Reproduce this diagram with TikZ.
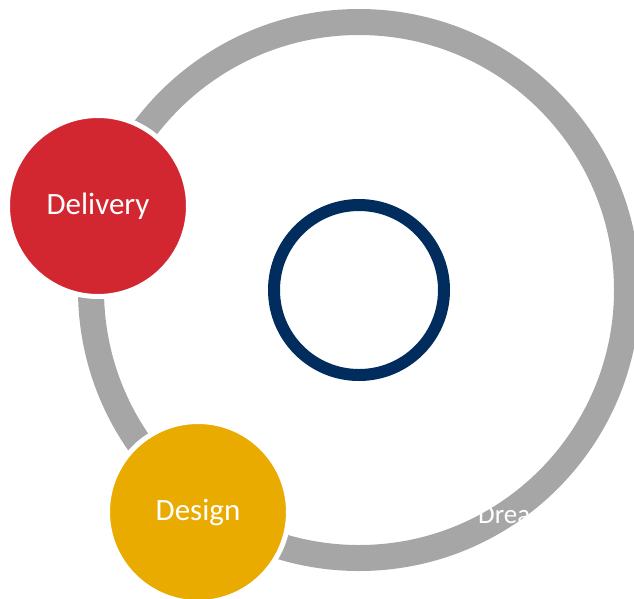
\documentclass[tikz,border=0pt]{standalone}
\usepackage{fontspec}
\setmainfont{Carlito}
\usepackage{tikz}
\definecolor{ringgray}{HTML}{A6A6A6}
\definecolor{hubblue}{HTML}{002D5E}
\definecolor{deliveryred}{HTML}{D22630}
\definecolor{designyellow}{HTML}{EAAB00}
\tikzstyle{phase} = [circle, minimum size=181pt, inner sep=0pt, draw=white, line width=5pt, text=white, font=\fontsize{31}{31}\selectfont]
\tikzstyle{ring} = [draw=ringgray, line width=26pt]
\tikzstyle{hubring} = [circle, minimum size=170pt, inner sep=0pt, draw=hubblue, line width=12pt]

\begin{document}
\begin{tikzpicture}[x=1pt, y=-1pt]
    \useasboundingbox (0,0) rectangle (634,598);
    \coordinate (centre) at (359,290);
    \draw [ring] (centre) circle (268pt);
    \node (hub) [hubring] at (centre) {};
    \node (delivery) [phase, fill=deliveryred] at (98,206) {Delivery};
    \node (design) [phase, fill=designyellow] at (198,512) {Design};
    \node (dream) [anchor=base west, inner sep=0pt, text=white, font=\fontsize{27}{27}\selectfont] at (478,523) {Drea};
\end{tikzpicture}
\end{document}
